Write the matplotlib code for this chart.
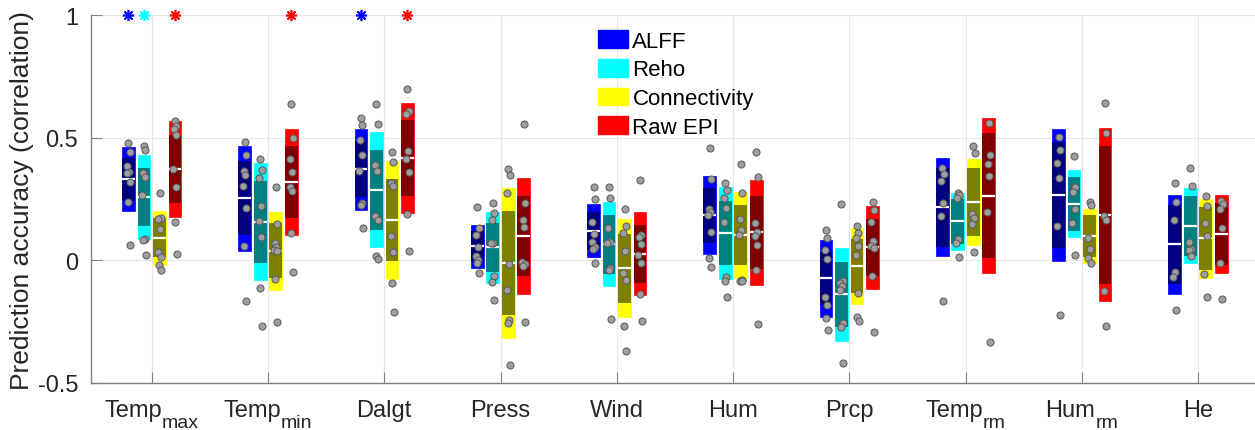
import matplotlib
matplotlib.use('Agg')
import matplotlib.pyplot as plt
from matplotlib.patches import Patch

plt.rcParams['font.family'] = ['Liberation Sans', 'DejaVu Sans']

cond_names = ['Temp', 'Temp', 'Dalgt', 'Press', 'Wind', 'Hum', 'Prcp', 'Temp', 'Hum', 'He']
cond_subs = ['max', 'min', '', '', '', '', '', 'rm', 'rm', '']
methods = ['ALFF', 'Reho', 'Connectivity', 'Raw EPI']

# bar values: mean, outer half width (sd), inner half width (ci)
mean_alff = [0.330, 0.253, 0.372, 0.057, 0.121, 0.183, -0.073, 0.216, 0.267, 0.065]
sd_alff = [0.130, 0.215, 0.165, 0.087, 0.109, 0.159, 0.157, 0.200, 0.270, 0.202]
ci_alff = [0.089, 0.150, 0.114, 0.062, 0.077, 0.111, 0.108, 0.162, 0.217, 0.162]

mean_reho = [0.257, 0.157, 0.288, 0.053, 0.066, 0.111, -0.139, 0.159, 0.231, 0.141]
sd_reho = [0.172, 0.239, 0.235, 0.145, 0.171, 0.187, 0.190, 0.116, 0.137, 0.152]
ci_reho = [0.119, 0.167, 0.163, 0.100, 0.120, 0.130, 0.133, 0.092, 0.110, 0.122]

mean_conn = [0.092, 0.039, 0.163, -0.010, -0.033, 0.103, -0.024, 0.238, 0.099, 0.089]
sd_conn = [0.110, 0.160, 0.240, 0.306, 0.200, 0.176, 0.155, 0.174, 0.110, 0.160]
ci_conn = [0.080, 0.112, 0.167, 0.212, 0.140, 0.122, 0.109, 0.138, 0.085, 0.129]

mean_raw = [0.372, 0.320, 0.418, 0.099, 0.027, 0.114, 0.053, 0.264, 0.186, 0.107]
sd_raw = [0.197, 0.215, 0.224, 0.237, 0.170, 0.214, 0.169, 0.316, 0.352, 0.159]
ci_raw = [0.137, 0.148, 0.155, 0.163, 0.118, 0.148, 0.117, 0.253, 0.282, 0.127]

# individual folds / subjects
pts_alff = [
    [0.479, 0.441, 0.383, 0.361, 0.356, 0.320, 0.236, 0.061],
    [0.482, 0.430, 0.365, 0.347, 0.303, 0.212, 0.060, -0.167],
    [0.579, 0.552, 0.492, 0.429, 0.364, 0.234, 0.224, 0.130],
    [0.219, 0.130, 0.103, 0.055, 0.018, 0.002, -0.012, -0.053],
    [0.300, 0.249, 0.155, 0.106, 0.073, 0.053, 0.045, -0.010],
    [0.458, 0.331, 0.208, 0.198, 0.183, 0.115, 0.011, -0.026],
    [0.122, 0.092, 0.043, 0.005, -0.148, -0.183, -0.236, -0.284],
    [0.375, 0.351, 0.323, 0.232, 0.182, -0.167],
    [0.501, 0.451, 0.398, 0.337, 0.140, -0.222],
    [0.316, 0.236, 0.163, -0.049, -0.069, -0.204],
]
pts_reho = [
    [0.466, 0.450, 0.357, 0.338, 0.265, 0.087, 0.084, 0.022],
    [0.412, 0.367, 0.336, 0.223, 0.160, 0.096, -0.113, -0.269],
    [0.636, 0.554, 0.387, 0.363, 0.181, 0.164, 0.019, 0.004],
    [0.232, 0.194, 0.164, 0.072, 0.069, -0.065, -0.088, -0.162],
    [0.298, 0.254, 0.133, 0.075, 0.072, -0.033, -0.040, -0.238],
    [0.314, 0.287, 0.255, 0.214, 0.155, -0.067, -0.083, -0.150],
    [0.231, -0.083, -0.093, -0.104, -0.122, -0.256, -0.273, -0.420],
    [0.276, 0.268, 0.254, 0.087, 0.072, 0.013],
    [0.425, 0.298, 0.278, 0.208, 0.151, 0.023],
    [0.375, 0.303, 0.076, 0.046, 0.042, 0.019],
]
pts_conn = [
    [0.274, 0.172, 0.167, 0.128, 0.033, 0.015, -0.019, -0.038],
    [0.298, 0.147, 0.072, 0.053, 0.043, 0.037, -0.076, -0.253],
    [0.440, 0.401, 0.316, 0.302, 0.100, 0.035, -0.091, -0.210],
    [0.371, 0.347, 0.276, -0.015, -0.120, -0.243, -0.257, -0.427],
    [0.209, 0.140, 0.110, 0.039, -0.052, -0.080, -0.267, -0.369],
    [0.393, 0.274, 0.168, 0.124, 0.104, -0.079, -0.083, -0.084],
    [0.140, 0.111, 0.090, 0.057, 0.022, -0.132, -0.230, -0.247],
    [0.465, 0.437, 0.189, 0.171, 0.147, 0.033],
    [0.238, 0.225, 0.092, 0.045, 0.008, -0.011],
    [0.261, 0.221, 0.152, 0.098, -0.056, -0.150],
]
pts_raw = [
    [0.568, 0.547, 0.534, 0.510, 0.373, 0.300, 0.157, 0.024],
    [0.638, 0.497, 0.413, 0.360, 0.298, 0.281, 0.111, -0.048],
    [0.700, 0.609, 0.598, 0.444, 0.413, 0.361, 0.188, 0.037],
    [0.556, 0.232, 0.163, 0.137, -0.007, -0.015, -0.022, -0.250],
    [0.327, 0.105, 0.095, 0.068, 0.020, -0.010, -0.139, -0.246],
    [0.440, 0.340, 0.152, 0.117, 0.100, 0.062, -0.041, -0.260],
    [0.238, 0.206, 0.155, 0.077, 0.058, 0.049, -0.065, -0.291],
    [0.561, 0.428, 0.393, 0.345, 0.197, -0.334],
    [0.641, 0.518, 0.182, 0.166, -0.126, -0.268],
    [0.243, 0.228, 0.209, 0.133, -0.010, -0.157],
]

# significance stars (1 = significant)
sig_alff = [1, 0, 1, 0, 0, 0, 0, 0, 0, 0]
sig_reho = [1, 0, 0, 0, 0, 0, 0, 0, 0, 0]
sig_conn = [0, 0, 0, 0, 0, 0, 0, 0, 0, 0]
sig_raw = [1, 1, 1, 0, 0, 0, 0, 0, 0, 0]

bright = [(0, 0, 1), (0, 1, 1), (1, 1, 0), (1, 0, 0)]
dark = [(0, 0, 0.5), (0, 0.5, 0.5), (0.5, 0.5, 0), (0.5, 0, 0)]
offsets = [-0.2, -0.067, 0.067, 0.2]
width = 0.11
jitter = [0.0, 0.012, -0.01, 0.006, -0.013, 0.009, -0.004, 0.014]
txt_col = (0.15, 0.15, 0.15)

fig = plt.figure(figsize=(12.55, 4.31), dpi=100)
ax = fig.add_axes([90.7 / 1255, 47 / 431, 1 - 90.7 / 1255, 368 / 431])

all_means = [mean_alff, mean_reho, mean_conn, mean_raw]
all_sd = [sd_alff, sd_reho, sd_conn, sd_raw]
all_ci = [ci_alff, ci_reho, ci_conn, ci_raw]
all_pts = [pts_alff, pts_reho, pts_conn, pts_raw]
all_sig = [sig_alff, sig_reho, sig_conn, sig_raw]

for m in range(4):
    xs = [i + 1 + offsets[m] for i in range(len(cond_names))]
    mu = all_means[m]
    sd = all_sd[m]
    ci = all_ci[m]
    ax.bar(xs, [2 * s for s in sd], bottom=[a - s for a, s in zip(mu, sd)], width=width,
           color=bright[m], edgecolor=bright[m], linewidth=0.5, zorder=2)
    ax.bar(xs, [2 * c for c in ci], bottom=[a - c for a, c in zip(mu, ci)], width=width,
           color=dark[m], linewidth=0, zorder=3)
    ax.hlines(mu, [x - width / 2 for x in xs], [x + width / 2 for x in xs],
              colors='white', linewidth=1.6, zorder=4)
    for i, vals in enumerate(all_pts[m]):
        px = [xs[i] + jitter[k % len(jitter)] for k in range(len(vals))]
        ax.scatter(px, vals, s=26, facecolor=(0.62, 0.62, 0.62), edgecolor=(0.35, 0.35, 0.35),
                   linewidth=0.7, zorder=5)
    for i, flag in enumerate(all_sig[m]):
        if flag:
            ax.plot(xs[i], 1, marker=(8, 2, 0), color=bright[m], markersize=8, mew=1.2,
                    clip_on=False, zorder=6)

ax.set_xlim(0.475, 10.49)
ax.set_ylim(-0.5, 1)
ax.set_xticks(range(1, len(cond_names) + 1))
ax.set_xticklabels([''] * len(cond_names))
ax.set_yticks([-0.5, 0, 0.5, 1])
ax.set_yticklabels(['-0.5', '0', '0.5', '1'])
ax.tick_params(direction='in', length=8, width=0.8, color=(0.5, 0.5, 0.5),
               labelsize=17, labelcolor=txt_col, pad=9)
ax.grid(True, color=(0.9, 0.9, 0.9), linewidth=0.8)
ax.set_axisbelow(True)
for side in ['top', 'right']:
    ax.spines[side].set_visible(False)
for side in ['left', 'bottom']:
    ax.spines[side].set_color((0.5, 0.5, 0.5))
    ax.spines[side].set_linewidth(1.0)
ax.set_ylabel('Prediction accuracy (correlation)', fontsize=19, color=txt_col)
ax.yaxis.set_label_coords(-0.0487, 0.5)

# x labels with MATLAB-like subscripts (base word + lowered smaller suffix, centred as a whole)
fig.canvas.draw()
rend = fig.canvas.get_renderer()
xtrans = ax.get_xaxis_transform()
for i, (base, sub) in enumerate(zip(cond_names, cond_subs)):
    tb = ax.annotate(base, xy=(i + 1, 0), xycoords=xtrans, xytext=(0, -32.7),
                     textcoords='offset pixels', ha='left', va='baseline',
                     fontsize=17, color=txt_col, annotation_clip=False)
    wb = tb.get_window_extent(rend).width
    ws = 0
    ts = None
    if sub:
        ts = ax.annotate(sub, xy=(i + 1, 0), xycoords=xtrans, xytext=(0, -44.3),
                         textcoords='offset pixels', ha='left', va='baseline',
                         fontsize=14, color=txt_col, annotation_clip=False)
        ws = ts.get_window_extent(rend).width
    total = wb + ws
    tb.xyann = (-total / 2, -32.7)
    if ts is not None:
        ts.xyann = (-total / 2 + wb, -44.3)

handles = [Patch(facecolor=bright[m], edgecolor=bright[m]) for m in range(4)]
ax.legend(handles, methods, loc='upper left', bbox_to_anchor=(598 / 1255, 1 - 31 / 431),
          bbox_transform=fig.transFigure, frameon=False, fontsize=16, borderpad=0,
          borderaxespad=0, handlelength=1.35, handleheight=0.85, handletextpad=0.2,
          labelspacing=0.325)

fig.savefig('out.png', dpi=100)
